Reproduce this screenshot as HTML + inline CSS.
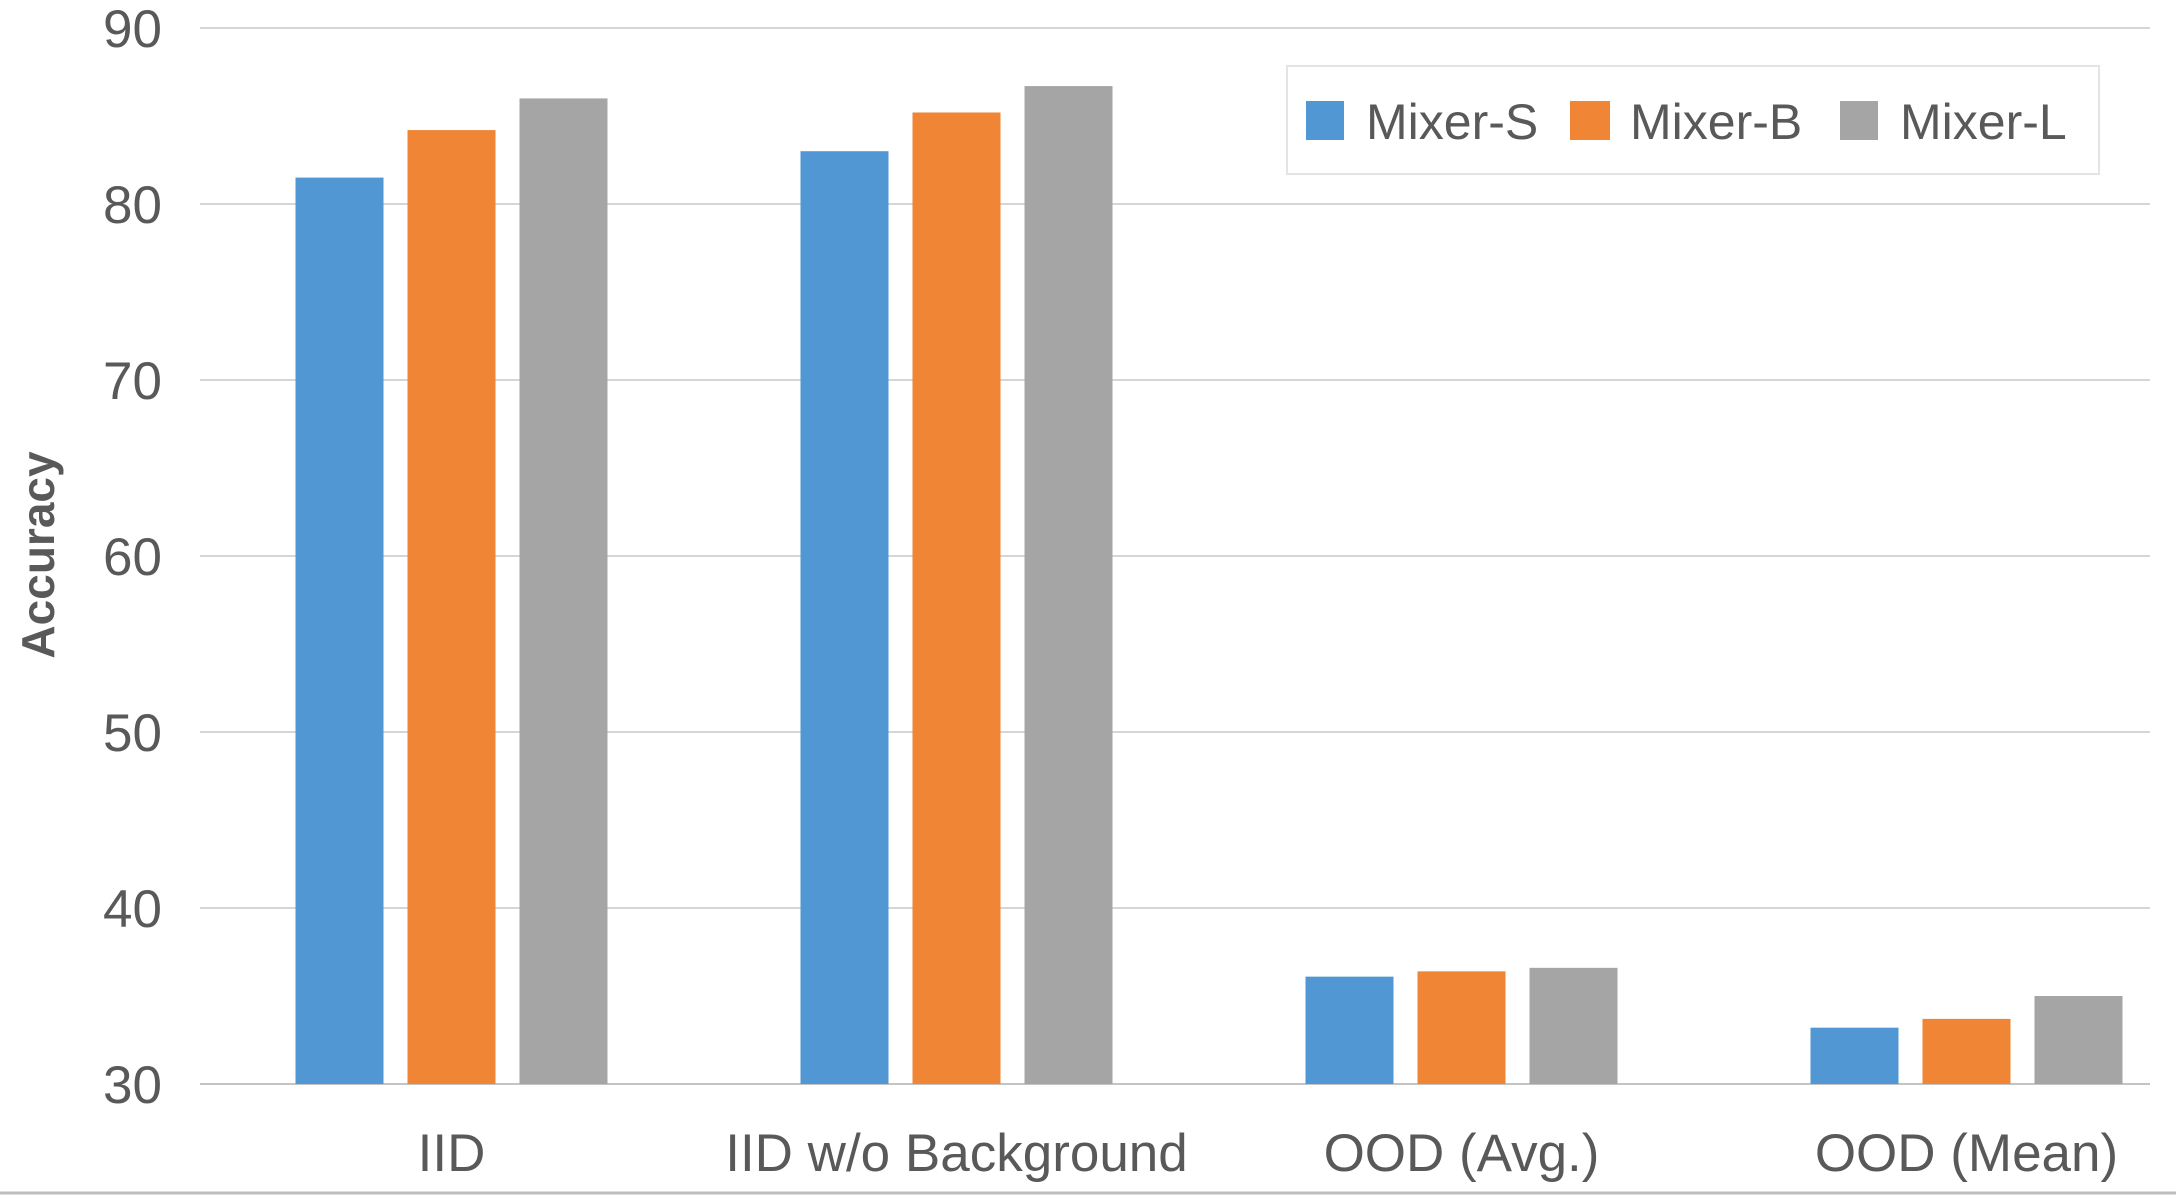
<!DOCTYPE html>
<html><head><meta charset="utf-8"><style>
html,body{margin:0;padding:0;background:#fff;}
svg{display:block;font-family:"Liberation Sans",sans-serif;}
</style></head><body>
<svg id="chart" width="2176" height="1196" viewBox="0 0 2176 1196">
<g id="grid"></g><g id="bars"></g><g id="labels"></g>
<text x="0" y="0" transform="translate(54,555) rotate(-90)" text-anchor="middle" font-size="46" font-weight="bold" fill="#595959">Accuracy</text>
<g>
<rect x="1287" y="66" width="812" height="108" fill="#fff" stroke="#e4e4e4" stroke-width="2"/>
<rect x="1306" y="101" width="38" height="39" fill="#5097d3"/>
<text x="1366" y="139" font-size="50" fill="#595959">Mixer-S</text>
<rect x="1570" y="101" width="40" height="39" fill="#ef8535"/>
<text x="1630" y="139" font-size="50" fill="#595959">Mixer-B</text>
<rect x="1840" y="101" width="38" height="39" fill="#a5a5a5"/>
<text x="1900" y="139" font-size="50" fill="#595959">Mixer-L</text>
</g>
<line x1="0" y1="1193" x2="2176" y2="1193" stroke="#bdbdbd" stroke-width="3"/>
</svg>
<script>
const categories = ["IID", "IID w/o Background", "OOD (Avg.)", "OOD (Mean)"];
const mixerS = [81.5, 83.0, 36.1, 33.2];
const mixerB = [84.2, 85.2, 36.4, 33.7];
const mixerL = [86.0, 86.7, 36.6, 35.0];
const yTicks = [30, 40, 50, 60, 70, 80, 90];
const seriesNames = ["Mixer-S", "Mixer-B", "Mixer-L"];
const colors = ["#5097d3", "#ef8535", "#a5a5a5"];

const NS = "http://www.w3.org/2000/svg";
const yMin = 30, yMax = 90, yTop = 28, yBot = 1084;
function yScale(v){ return yBot - (v - yMin) / (yMax - yMin) * (yBot - yTop); }
const x0 = 199, band = 505;
function xCenter(i){ return x0 + band * (i + 0.5); }
const barW = 88, barStep = 112;

const grid = document.getElementById('grid');
yTicks.forEach(t => {
  const y = yScale(t);
  const l = document.createElementNS(NS, 'line');
  l.setAttribute('x1', 200); l.setAttribute('x2', 2150);
  l.setAttribute('y1', y); l.setAttribute('y2', y);
  l.setAttribute('stroke', t === 30 ? '#c4c4c4' : '#d6d6d6'); l.setAttribute('stroke-width', 2);
  
  
  grid.appendChild(l);
  const tx = document.createElementNS(NS, 'text');
  tx.setAttribute('x', 162); tx.setAttribute('y', y + 19);
  tx.setAttribute('text-anchor', 'end'); tx.setAttribute('font-size', 53); tx.setAttribute('fill', '#595959');
  tx.textContent = t;
  
  
  grid.appendChild(tx);
});

const bars = document.getElementById('bars');
const series = [mixerS, mixerB, mixerL];
series.forEach((vals, s) => {
  vals.forEach((v, i) => {
    const r = document.createElementNS(NS, 'rect');
    const cx = xCenter(i) + (s - 1) * barStep;
    r.setAttribute('x', cx - barW / 2);
    r.setAttribute('y', yScale(v));
    r.setAttribute('width', barW);
    r.setAttribute('height', yScale(yMin) - yScale(v));
    r.setAttribute('fill', colors[s]);
    
    
    bars.appendChild(r);
  });
});

const labels = document.getElementById('labels');
categories.forEach((c, i) => {
  const t = document.createElementNS(NS, 'text');
  t.setAttribute('x', xCenter(i)); t.setAttribute('y', 1171);
  t.setAttribute('text-anchor', 'middle'); t.setAttribute('font-size', 53); t.setAttribute('fill', '#595959');
  t.textContent = c;
  
  
  labels.appendChild(t);
});
</script>
</body></html>
